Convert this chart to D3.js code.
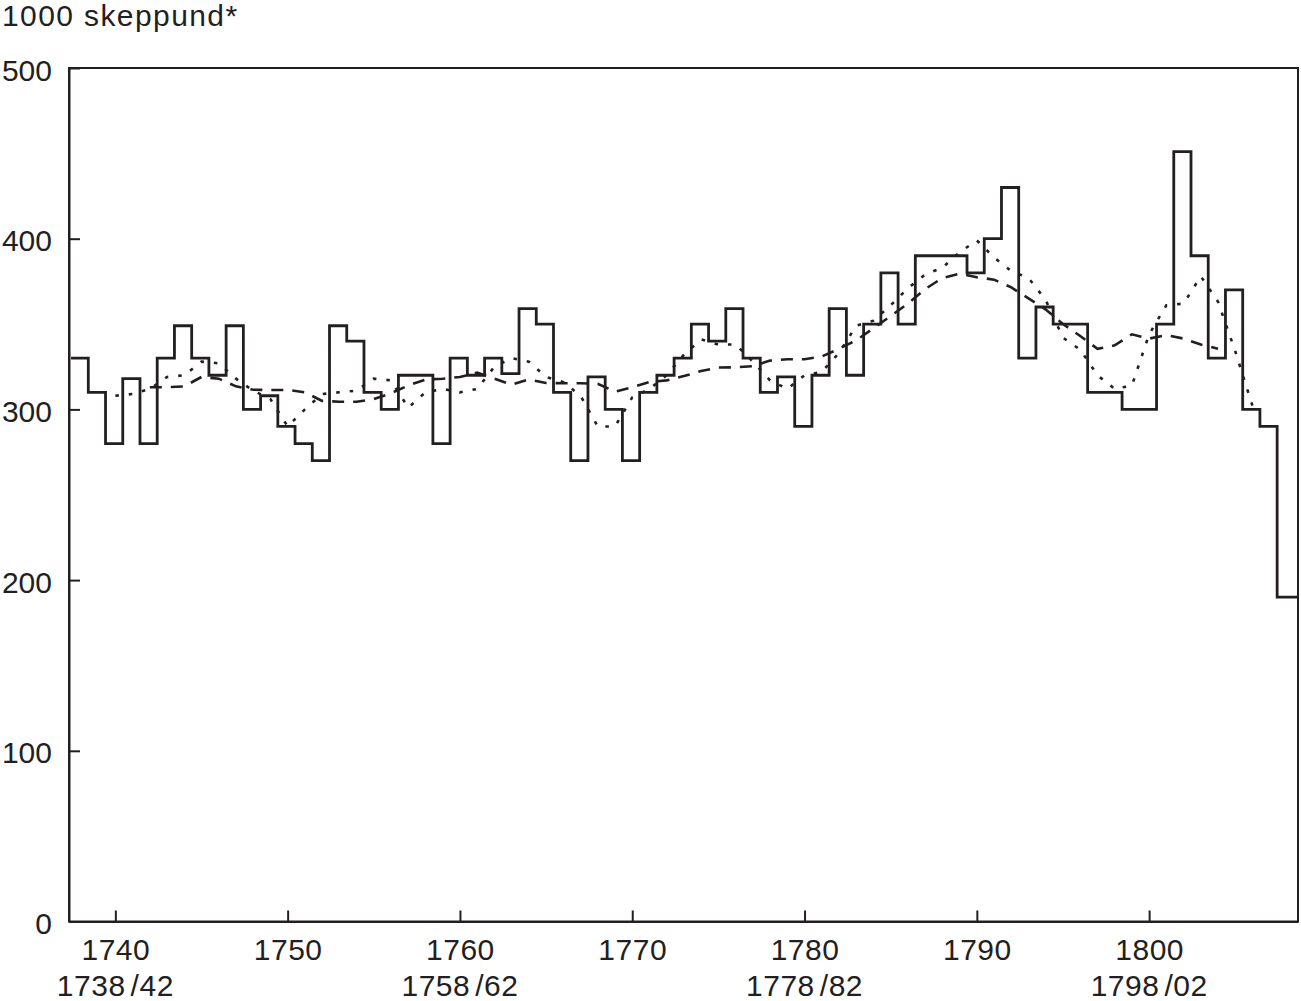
<!DOCTYPE html>
<html>
<head>
<meta charset="utf-8">
<script src="https://cdn.jsdelivr.net/npm/d3@7/dist/d3.min.js"></script>
<style>
  body { margin: 0; background: #fff; }
  text { font-family: "Liberation Sans", Arial, Helvetica, sans-serif; fill: #231f20; }
</style>
</head>
<body>
<div id="chart"></div>
<script>
// yearly exports, 1000 skeppund (step line)
const stepStart = 1738;
const stepValues = [
  330, 310, 280, 318, 280, 330, 349, 330, 320, 349,
  300, 308, 290, 280, 270, 349, 340, 310, 300, 320,
  320, 280, 330, 320, 330, 321, 359, 350, 310, 270,
  319, 300, 270, 310, 320, 330, 350, 340, 359, 330,
  310, 319, 290, 320, 359, 320, 350, 380, 350, 390,
  390, 390, 380, 400, 430, 330, 360, 350, 350, 310,
  310, 300, 300, 350, 451, 390, 330, 370, 300, 290,
  190
];

// dotted line
const dottedStart = 1740;
const dottedValues = [
  308, 309, 312, 319, 320, 328, 327, 318, 311, 306,
  290, 300, 309, 310, 311, 318, 317, 301, 310, 312,
  310, 312, 325, 330, 328, 319, 316, 308, 290, 290,
  307, 312, 320, 332, 341, 338, 338, 328, 317, 312,
  320, 322, 333, 349, 352, 361, 371, 379, 383, 392,
  399, 389, 381, 377, 364, 342, 335, 320, 312, 314,
  344, 361, 362, 378, 363, 334, 302
];

// dashed line
const dashedStart = 1742;
const dashedValues = [
  313, 313, 313.5, 319, 318, 313.5, 311.5, 311.4, 311.4, 310,
  305, 304.5, 304.5, 306, 309.5, 314, 317.5, 318, 319, 321.5,
  318, 314.5, 317.5, 315.5, 315.3, 315.3, 315, 310.4, 313, 316,
  317, 319.5, 322.5, 324.5, 324.7, 325.3, 328.6, 329.4, 329.4, 331,
  335.5, 340.5, 347.5, 354.7, 362, 370.5, 377, 379.5, 377.4, 376,
  371.5, 365, 358.5, 350, 343, 335.5, 337.5, 344, 341.5, 343.5,
  341.5, 338, 335.5
];

const xTicks = [1740, 1750, 1760, 1770, 1780, 1790, 1800];
const yTicks = [0, 100, 200, 300, 400, 500];
const periodLabels = [
  { at: 1740, from: "1738", to: "42" },
  { at: 1760, from: "1758", to: "62" },
  { at: 1780, from: "1778", to: "82" },
  { at: 1800, from: "1798", to: "02" }
];
const unitLabel = "1000 skeppund*";

const width = 1301;
const height = 1001;
const margin = { left: 69, right: 1298, top: 68, bottom: 921.5 };
const ink = "#231f20";
const fontSize = 30;

const svg = d3.select("#chart").append("svg")
    .attr("width", width)
    .attr("height", height);

const x = d3.scaleLinear().domain([1737.31, 1808.64]).range([margin.left, margin.right]);
const y = d3.scaleLinear().domain([0, 500]).range([margin.bottom, margin.top]);

// bars are a bit off-centre on the year ticks
const barBefore = 0.57;

const stepPoints = stepValues.map((v, i) => ({
    year: Math.max(stepStart + i - barBefore, x.domain()[0]),
    value: v
}));
stepPoints.push({ year: x.domain()[1], value: stepValues[stepValues.length - 1] });

const stepLine = d3.line()
    .x(d => x(d.year))
    .y(d => y(d.value))
    .curve(d3.curveStepAfter);

const smoothLine = d3.line()
    .x(d => x(d.year))
    .y(d => y(d.value));

const toPoints = (start, values) => values.map((v, i) => ({ year: start + i, value: v }));

// frame
svg.append("rect")
    .attr("x", margin.left)
    .attr("y", margin.top)
    .attr("width", margin.right - margin.left)
    .attr("height", margin.bottom - margin.top)
    .attr("fill", "none")
    .attr("stroke", ink)
    .attr("stroke-width", 2);

// x axis
const xAxis = svg.append("g")
    .attr("transform", `translate(0,${margin.bottom})`)
    .call(d3.axisBottom(x)
        .tickValues(xTicks)
        .tickFormat(d3.format("d"))
        .tickSize(-11)
        .tickSizeOuter(0)
        .tickPadding(17));

// y axis
const yAxis = svg.append("g")
    .attr("transform", `translate(${margin.left},0)`)
    .call(d3.axisLeft(y)
        .tickValues(yTicks)
        .tickSize(-11)
        .tickSizeOuter(0)
        .tickPadding(17));

[xAxis, yAxis].forEach(g => {
    g.select(".domain").attr("stroke", ink).attr("stroke-width", 2);
    g.selectAll(".tick line").attr("stroke", ink).attr("stroke-width", 2);
    g.selectAll(".tick text")
        .attr("fill", ink)
        .style("font-size", fontSize + "px")
        .style("font-family", '"Liberation Sans", Arial, sans-serif');
});
xAxis.selectAll(".tick text").style("letter-spacing", "0.5px");
yAxis.selectAll(".tick text").attr("dy", "0.4em");

// second row of x labels
const periods = svg.append("g").selectAll("text")
    .data(periodLabels)
    .enter().append("text")
    .attr("x", d => x(d.at))
    .attr("y", 996)
    .attr("text-anchor", "middle")
    .style("font-size", fontSize + "px")
    .style("letter-spacing", "0.5px");
periods.append("tspan").text(d => d.from);
periods.append("tspan").attr("dx", 5).text(d => "/" + d.to);

// unit label
svg.append("text")
    .attr("x", 2)
    .attr("y", 26)
    .style("font-size", fontSize + "px")
    .style("letter-spacing", "1.4px")
    .text(unitLabel);

// series
const plot = svg.append("g");

plot.append("path")
    .datum(toPoints(dashedStart, dashedValues))
    .attr("d", smoothLine)
    .attr("fill", "none")
    .attr("stroke", ink)
    .attr("stroke-width", 2.6)
    .attr("stroke-dasharray", "12,9");

plot.append("path")
    .datum(toPoints(dottedStart, dottedValues))
    .attr("d", smoothLine)
    .attr("fill", "none")
    .attr("stroke", ink)
    .attr("stroke-width", 2.6)
    .attr("stroke-dasharray", "3.5,10");

plot.append("path")
    .datum(stepPoints)
    .attr("d", stepLine)
    .attr("fill", "none")
    .attr("stroke", ink)
    .attr("stroke-width", 2.8)
    .attr("stroke-linejoin", "miter");
</script>
</body>
</html>
